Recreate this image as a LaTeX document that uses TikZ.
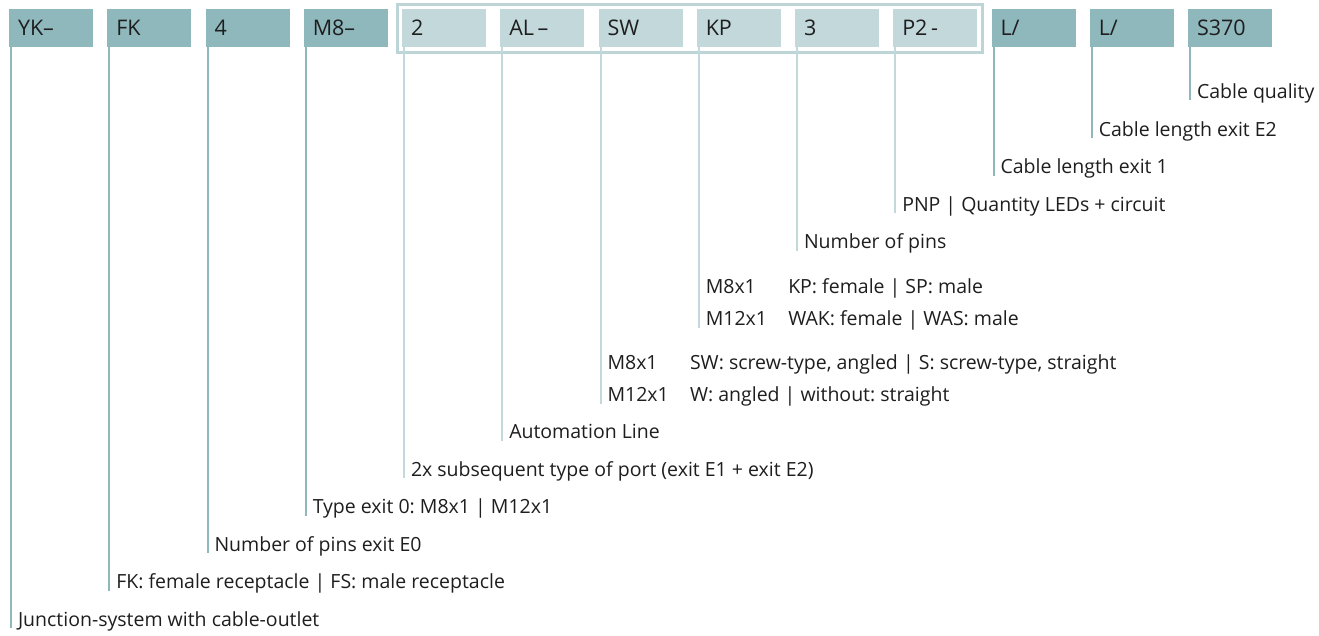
\documentclass[tikz,border=0pt]{standalone}
\usepackage{fontspec}
\setmainfont{Open Sans}
\usepackage{tikz}
\usetikzlibrary{positioning, fit}
\definecolor{boxdark}{RGB}{143,184,189}
\definecolor{boxlight}{RGB}{194,216,219}
\definecolor{framecol}{RGB}{190,213,216}
\definecolor{txtdark}{RGB}{30,30,30}
\frenchspacing
\newcommand{\boxfont}{\fontsize{21.5}{25}\selectfont}
\newcommand{\labfont}{\fontsize{19.5}{23}\selectfont}
\newcommand{\twocol}[2]{\makebox[82.5pt][l]{#1}#2}
\tikzset{
  codebox/.style={rectangle, fill=boxdark, anchor=north west, outer sep=0pt,
    minimum width=84pt, minimum height=38pt, inner xsep=9pt, inner ysep=0pt,
    text width=66pt, align=left, font=\boxfont, text=txtdark},
  codelight/.style={codebox, fill=boxlight},
  lab/.style={anchor=base west, inner sep=0pt, outer sep=0pt, font=\labfont, text=txtdark},
  lnk/.style={line width=2pt, color=boxdark},
  lnklight/.style={line width=2pt, color=boxlight},
  grpframe/.style={draw=framecol, line width=3pt, inner xsep=5pt, inner ysep=5pt}
}

\begin{document}
\begin{tikzpicture}[x=1pt, y=-1pt]
  \useasboundingbox (0,0) rectangle (1319,635);

  % Order code boxes
  \node[codebox] (yk) at (9,9) {YK--};
  \node[codebox, right=14.25pt of yk] (fk) {FK};
  \node[codebox, right=14.25pt of fk] (pins) {4};
  \node[codebox, right=14.25pt of pins] (meight) {M8--};
  \node[codelight, right=14.25pt of meight] (two) {2};
  \node[codelight, right=14.25pt of two] (al) {AL\,--};
  \node[codelight, right=14.25pt of al] (sw) {SW};
  \node[codelight, right=14.25pt of sw] (kp) {KP};
  \node[codelight, right=14.25pt of kp] (three) {3};
  \node[codelight, right=14.25pt of three] (ptwo) {P2\,-};
  \node[codebox, right=14.25pt of ptwo] (lone) {L/};
  \node[codebox, right=14.25pt of lone] (ltwo) {L/};
  \node[codebox, right=14.25pt of ltwo] (s370) {S370};

  % Frame round the port group
  \node[grpframe, fit=(two)(ptwo)] (grp) {};

  % Labels
  \node[lab] (lquality) at (1197,98) {Cable quality};
  \node[lab] (lexittwo) at (1098.75,136) {Cable length exit E2};
  \node[lab] (lexitone) at (1000.5,173.5) {Cable length exit 1};
  \node[lab] (lpnp) at (902.25,211) {PNP | Quantity LEDs + circuit};
  \node[lab] (lpins) at (804,248.5) {Number of pins};
  \node[lab] (lkpa) at (705.75,293.5) {\twocol{M8x1}{KP: female | SP: male}};
  \node[lab] (lkpb) at (705.75,325.5) {\twocol{M12x1}{WAK: female | WAS: male}};
  \node[lab] (lswa) at (607.5,369.5) {\twocol{M8x1}{SW: screw-type, angled | S: screw-type, straight}};
  \node[lab] (lswb) at (607.5,401.5) {\twocol{M12x1}{W: angled | without: straight}};
  \node[lab] (lal) at (509.25,438.5) {Automation Line};
  \node[lab] (lport) at (411,476) {2x subsequent type of port (exit E1 + exit E2)};
  \node[lab] (lexitzero) at (312.75,513.5) {Type exit 0: M8x1 | M12x1};
  \node[lab] (lpinszero) at (214.5,551) {Number of pins exit E0};
  \node[lab] (lfk) at (116.25,588.5) {FK: female receptacle | FS: male receptacle};
  \node[lab] (ljunction) at (18,626) {Junction-system with cable-outlet};

  % Connectors
  \draw[lnk] ([xshift=2pt]yk.south west) -- ([xshift=-7pt,yshift=-2pt]ljunction.base west);
  \draw[lnk] ([xshift=2pt]fk.south west) -- ([xshift=-7pt,yshift=-2pt]lfk.base west);
  \draw[lnk] ([xshift=2pt]pins.south west) -- ([xshift=-7pt,yshift=-2pt]lpinszero.base west);
  \draw[lnk] ([xshift=2pt]meight.south west) -- ([xshift=-7pt,yshift=-2pt]lexitzero.base west);
  \draw[lnklight] ([xshift=2pt]two.south west) -- ([xshift=-7pt,yshift=-2pt]lport.base west);
  \draw[lnklight] ([xshift=2pt]al.south west) -- ([xshift=-7pt,yshift=-2pt]lal.base west);
  \draw[lnklight] ([xshift=2pt]sw.south west) -- ([xshift=-7pt,yshift=-2pt]lswb.base west);
  \draw[lnklight] ([xshift=2pt]kp.south west) -- ([xshift=-7pt,yshift=-2pt]lkpb.base west);
  \draw[lnklight] ([xshift=2pt]three.south west) -- ([xshift=-7pt,yshift=-2pt]lpins.base west);
  \draw[lnklight] ([xshift=2pt]ptwo.south west) -- ([xshift=-7pt,yshift=-2pt]lpnp.base west);
  \draw[lnk] ([xshift=2pt]lone.south west) -- ([xshift=-7pt,yshift=-2pt]lexitone.base west);
  \draw[lnk] ([xshift=2pt]ltwo.south west) -- ([xshift=-7pt,yshift=-2pt]lexittwo.base west);
  \draw[lnk] ([xshift=2pt]s370.south west) -- ([xshift=-7pt,yshift=-2pt]lquality.base west);
\end{tikzpicture}
\end{document}
